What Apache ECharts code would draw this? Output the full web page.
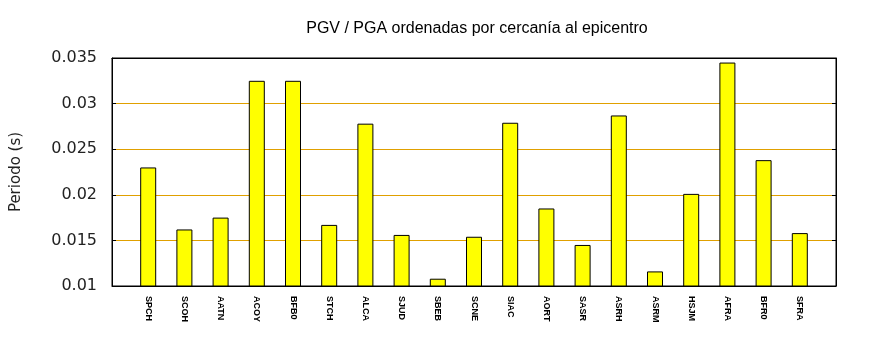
<!DOCTYPE html>
<html>
<head>
<meta charset="utf-8">
<script src="https://cdn.jsdelivr.net/npm/echarts@6/dist/echarts.min.js"></script>
<style>html,body{margin:0;padding:0;background:#fff}#c{width:870px;height:350px}</style>
</head>
<body>
<div id="c"></div>
<script>
const titleText = 'PGV / PGA ordenadas por cercanía al epicentro';
const yName = 'Periodo (s)';
const stations = ['SPCH','SCOH','AATN','ACOY','BFB0','STCH','ALCA','SJUD','SBEB','SCNE','SIAC','AORT','SASR','ASRH','ASRM','HSJM','AFRA','BFR0','SFRA'];
const periods = [0.0230,0.0162,0.0175,0.0325,0.0325,0.0167,0.0278,0.0156,0.0108,0.0154,0.0279,0.0185,0.0145,0.0287,0.0116,0.0201,0.0345,0.0238,0.0158];
const yMin = 0.01, yMax = 0.035, yStep = 0.005;

const cats = [''].concat(stations, ['']);
const vals = [null].concat(periods, [null]);
const orange = '#e0a000';

const chart = echarts.init(document.getElementById('c'), null, {renderer: 'canvas'});
chart.setOption({
  animation: false,
  title: {
    text: titleText, left: 472, top: 16, textAlign: 'center',
    textStyle: {fontFamily: 'Liberation Sans', fontSize: 16, fontWeight: 'normal', color: '#000'}
  },
  grid: {left: 112, right: 34, top: 58, bottom: 64, show: true, borderColor: '#000', borderWidth: 1},
  xAxis: [{
    type: 'category', data: cats, boundaryGap: false,
    axisLine: {show: true, lineStyle: {color: '#000', width: 1}},
    axisTick: {show: false},
    splitLine: {show: false},
    axisLabel: {
      interval: 0, rotate: -90, margin: 10,
      fontFamily: 'Liberation Sans', fontSize: 9, fontWeight: 'bold', color: '#000'
    }
  }, {
    type: 'category', data: cats, boundaryGap: false, position: 'top',
    axisLine: {show: true, lineStyle: {color: '#000', width: 1}},
    axisTick: {show: false}, axisLabel: {show: false}, splitLine: {show: false}
  }],
  yAxis: [{
    type: 'value', min: yMin, max: yMax, interval: yStep,
    name: yName, nameLocation: 'middle', nameGap: 88, nameRotate: 90,
    nameTextStyle: {fontFamily: 'DejaVu Sans', fontSize: 15, color: '#222'},
    axisLine: {show: true, lineStyle: {color: '#000'}},
    axisTick: {show: true, inside: true, length: 4, lineStyle: {color: '#000'}},
    axisLabel: {
      fontFamily: 'DejaVu Sans', fontSize: 16, color: '#222', margin: 15,
      formatter: v => String(parseFloat(v.toFixed(4)))
    },
    splitLine: {show: true, lineStyle: {color: orange, width: 1}}
  }, {
    type: 'value', min: yMin, max: yMax, interval: yStep, position: 'right',
    axisLine: {show: true, lineStyle: {color: '#000'}},
    axisTick: {show: true, inside: true, length: 4, lineStyle: {color: '#000'}},
    axisLabel: {show: false},
    splitLine: {show: false}
  }],
  series: [{
    type: 'bar', data: vals, barWidth: 16,
    itemStyle: {color: '#ffff00', borderColor: '#000', borderWidth: 1}
  }]
});
</script>
</body>
</html>
